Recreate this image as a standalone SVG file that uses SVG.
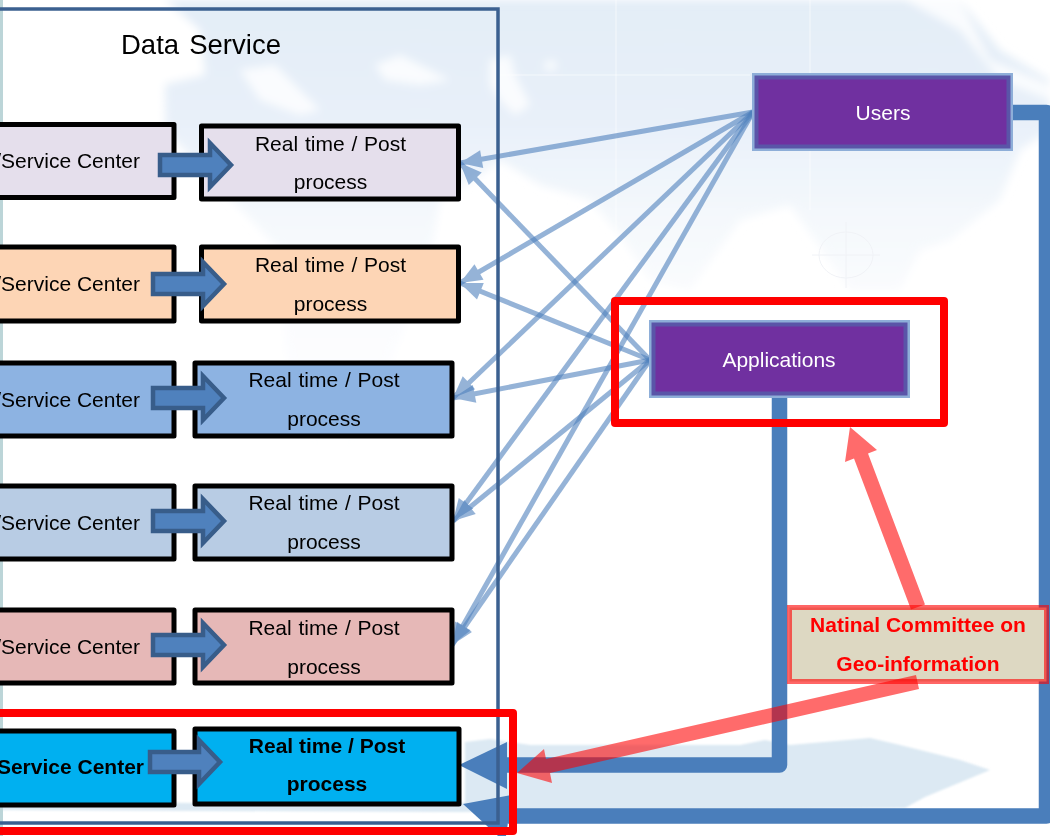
<svg xmlns="http://www.w3.org/2000/svg" width="1050" height="836" viewBox="0 0 1050 836">
<style>
text{font-family:"Liberation Sans",Arial,sans-serif;font-size:21px;fill:#000}
.m{text-anchor:middle;word-spacing:1px}
.e{text-anchor:end}
.b{font-weight:bold;word-spacing:0}
.box{stroke:#000;stroke-width:5;stroke-linejoin:round}
.ar{fill:#4f81bd;stroke:#385d8a;stroke-width:4.5}
.thin{stroke:#4f81bd;stroke-width:5;opacity:.6;fill:none}
.thick{stroke:#4a7ebb;stroke-width:15.5;fill:none;stroke-linejoin:round}
.tf{fill:#4a7ebb}
.pur{fill:#7030a0;stroke:#5a55a8;stroke-width:4}
.pur2{fill:none;stroke:#8eaed8;stroke-width:3}
.red{fill:none;stroke:#f00;stroke-width:8;stroke-linejoin:round}
</style>
<defs>
<linearGradient id="bg" x1="0" y1="0" x2="0" y2="1"><stop offset="0" stop-color="#e3edf7"/><stop offset=".25" stop-color="#e8f0f9"/><stop offset=".45" stop-color="#f4f8fc"/><stop offset=".65" stop-color="#fbfcfe"/><stop offset="1" stop-color="#ffffff"/></linearGradient>
<filter id="soft" x="-5%" y="-5%" width="110%" height="110%"><feGaussianBlur stdDeviation="4"/></filter>
<filter id="soft2" x="-5%" y="-5%" width="110%" height="110%"><feGaussianBlur stdDeviation="1"/></filter>
<marker id="h" markerUnits="userSpaceOnUse" markerWidth="24" markerHeight="22" refX="23" refY="11" orient="auto"><path d="M23,11 L1,2 L1,20 Z" fill="#4f81bd"/></marker>
</defs>
<g id="background">
<rect width="1050" height="836" fill="#fff"/>
<g filter="url(#soft)">
<path fill="url(#bg)" d="M165,0 L960,0 L1000,50 L1050,80 L1050,130 L1020,150 L1000,200 L950,240 L920,250 L900,290 L850,290 L815,240 L790,205 L740,220 L690,290 L650,280 L620,235 L590,200 L540,185 L500,160 L480,175 L440,200 L430,260 L400,340 L350,470 L310,460 L285,350 L280,250 L165,130 Z"/>
<path fill="#fff" opacity=".8" d="M490,60 L510,55 L515,75 L530,105 L515,115 L500,100 L490,85 Z M545,62 L555,60 L556,70 L545,70 Z M375,65 L400,55 L440,75 L450,80 L420,85 L385,80 Z M240,70 L275,65 L320,110 L300,115 L260,100 Z M905,0 L960,0 L990,60 L1050,85 L1050,100 L1000,80 L960,30 Z"/>
<path fill="#fff" d="M0,0 H165 L200,30 L205,75 L160,85 L165,125 H0 Z"/>
</g>
<g fill="none" stroke="#fff" stroke-width="1" opacity=".6"><path d="M616,0 V250 M810,0 V210 M500,75 H750"/></g>
<g fill="none" stroke="#f0f2f6" stroke-width="1"><ellipse cx="846" cy="255" rx="27" ry="23"/><path d="M846,222 V288 M812,255 H880"/></g>
<path filter="url(#soft2)" fill="#dce9f3" d="M0,800 L190,803 L465,803 L465,742 L490,739 L530,745 L740,745 L765,740 L790,745 L870,738 L900,745 L960,760 L990,770 L925,797 L905,808 L460,812 L0,810 Z"/>
<rect x="0" y="0" width="3" height="836" fill="#bcd5d8"/>
</g>
<g id="connectors">
<path class="thick" d="M1012,112.500 H1046.500 V816 H508"/>
<polygon class="tf" points="463,804 512,795 506,836 498,836"/>
<path class="thick" d="M779.500,397 V765 H505"/>
<polygon class="tf" points="459,765 507,742 507,789"/>
<line class="thin" x1="753" y1="112" x2="460" y2="163" marker-end="url(#h)"/>
<line class="thin" x1="753" y1="112" x2="460" y2="283" marker-end="url(#h)"/>
<line class="thin" x1="753" y1="112" x2="453" y2="398" marker-end="url(#h)"/>
<line class="thin" x1="753" y1="112" x2="453" y2="521" marker-end="url(#h)"/>
<line class="thin" x1="753" y1="112" x2="452" y2="645" marker-end="url(#h)"/>
<line class="thin" x1="650" y1="360" x2="460" y2="163" marker-end="url(#h)"/>
<line class="thin" x1="650" y1="360" x2="460" y2="283" marker-end="url(#h)"/>
<line class="thin" x1="650" y1="360" x2="453" y2="398" marker-end="url(#h)"/>
<line class="thin" x1="650" y1="360" x2="453" y2="521" marker-end="url(#h)"/>
<line class="thin" x1="650" y1="360" x2="452" y2="645" marker-end="url(#h)"/>
</g>
<g id="data-service">
<rect x="-10" y="9" width="508" height="814" fill="none" stroke="#3b6090" stroke-width="3.500"/>
<text x="121" y="54" style="font-size:27.5px;word-spacing:2.500px">Data Service</text>
</g>
<g id="row1">
<rect class="box" x="-10" y="124.500" width="184" height="73" fill="#e5dfec"/>
<rect class="box" x="201.500" y="126" width="257" height="73" fill="#e5dfec"/>
<text class="e" x="140" y="168">/Service Center</text>
<text class="m" x="330.500" y="151">Real time / Post</text><text class="m" x="330.500" y="189">process</text>
<path class="ar" d="M160,155 H210 V143 L231,165 L210,187 V175 H160 Z"/>
</g>
<g id="row2">
<rect class="box" x="-10" y="247" width="184" height="74" fill="#fdd5b5"/>
<rect class="box" x="201.500" y="247" width="257" height="74" fill="#fdd5b5"/>
<text class="e" x="140" y="291">/Service Center</text>
<text class="m" x="330.500" y="272">Real time / Post</text><text class="m" x="330.500" y="311">process</text>
<path class="ar" d="M153,274 H203 V262 L224,284 L203,306 V294 H153 Z"/>
</g>
<g id="row3">
<rect class="box" x="-10" y="363" width="184" height="73" fill="#8db3e2"/>
<rect class="box" x="195" y="363" width="257" height="73" fill="#8db3e2"/>
<text class="e" x="140" y="407">/Service Center</text>
<text class="m" x="324" y="387">Real time / Post</text><text class="m" x="324" y="426">process</text>
<path class="ar" d="M153,388 H203 V376 L224,398 L203,420 V408 H153 Z"/>
</g>
<g id="row4">
<rect class="box" x="-10" y="486" width="184" height="73" fill="#b8cce4"/>
<rect class="box" x="195" y="486" width="257" height="73" fill="#b8cce4"/>
<text class="e" x="140" y="530">/Service Center</text>
<text class="m" x="324" y="510">Real time / Post</text><text class="m" x="324" y="549">process</text>
<path class="ar" d="M153,511 H203 V499 L224,521 L203,543 V531 H153 Z"/>
</g>
<g id="row5">
<rect class="box" x="-10" y="610" width="184" height="73" fill="#e6b8b7"/>
<rect class="box" x="195" y="610" width="257" height="73" fill="#e6b8b7"/>
<text class="e" x="140" y="654">/Service Center</text>
<text class="m" x="324" y="635">Real time / Post</text><text class="m" x="324" y="674">process</text>
<path class="ar" d="M153,635 H203 V623 L224,645 L203,667 V655 H153 Z"/>
</g>
<g id="row6">
<rect class="box" x="-10" y="731" width="184" height="74" fill="#00b0f0"/>
<rect class="box" x="195" y="729" width="264" height="75" fill="#00b0f0"/>
<text class="e b" x="144" y="774">Service Center</text>
<text class="m b" x="327" y="753">Real time / Post</text><text class="m b" x="327" y="791">process</text>
<path class="ar" d="M150,752 H199 V740 L220,762 L199,784 V772 H150 Z"/>
</g>
<g id="users">
<rect x="753.500" y="74.500" width="258" height="75" class="pur2"/>
<rect x="756.500" y="77.500" width="252" height="69" class="pur"/>
<text class="m" x="883" y="120" style="fill:#fff;word-spacing:0">Users</text>
</g>
<g id="applications">
<rect x="650.500" y="321.500" width="258" height="75" class="pur2"/>
<rect x="653.500" y="324.500" width="252" height="69" class="pur"/>
<text class="m" x="779" y="367" style="fill:#fff;word-spacing:0">Applications</text>
</g>
<rect id="highlight-applications" class="red" x="615" y="301" width="329" height="122"/>
<rect id="highlight-row6" class="red" x="-10" y="713" width="523" height="118"/>
<g id="committee">
<rect x="789.500" y="607.500" width="257" height="74" fill="#ddd8c2" stroke="#f00" stroke-opacity=".6" stroke-width="5"/>
<text class="m b" x="918" y="632" style="fill:#f00">Natinal Committee on</text>
<text class="m b" x="918" y="671" style="fill:#f00">Geo-information</text>
</g>
<g id="red-arrows" opacity=".58" fill="#f00">
<path d="M925,604.500 L911,609.500 L854,458.500 L845,462 L850,427 L877,450 L868,453.500 Z"/>
<path d="M916,675 L919,689 L550,773 L552,783 L517,773 L544,749 L546,759 Z"/>
</g>
</svg>
